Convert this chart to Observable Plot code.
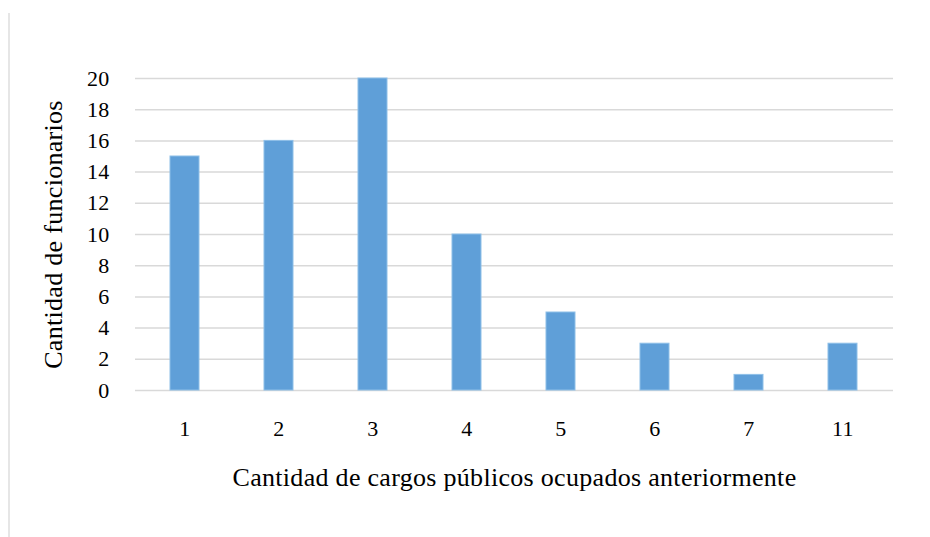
<!DOCTYPE html>
<html>
<head>
<meta charset="utf-8">
<script src="https://cdn.jsdelivr.net/npm/d3@7"></script>
<script src="https://cdn.jsdelivr.net/npm/@observablehq/plot@0.6"></script>
<style>
  html, body { margin: 0; padding: 0; background: #fff; }
  #wrap { position: relative; width: 930px; height: 537px; }
  #border { position: absolute; left: 8px; top: 13px; width: 2px; height: 524px; background: #e6e6e6; }
  #chart { position: absolute; left: 0; top: 0; }
</style>
</head>
<body>
<div id="wrap"><div id="border"></div><div id="chart"></div></div>
<script>
const categories = ["1", "2", "3", "4", "5", "6", "7", "11"];
const values = [15, 16, 20, 10, 5, 3, 1, 3];
const yTicks = [0, 2, 4, 6, 8, 10, 12, 14, 16, 18, 20];
const xTitle = "Cantidad de cargos públicos ocupados anteriormente";
const yTitle = "Cantidad de funcionarios";

const data = categories.map((c, i) => ({cat: c, value: values[i]}));
const serif = "Liberation Serif, DejaVu Serif, serif";

const chart = Plot.plot({
  width: 930,
  height: 537,
  marginLeft: 135,
  marginRight: 37,
  marginTop: 78,
  marginBottom: 147,
  style: {fontSize: "22px", fontFamily: serif, color: "#000", background: "transparent", letterSpacing: "0.3px"},
  x: {domain: categories, paddingInner: 0.69, paddingOuter: 0.345, align: 0.5},
  y: {domain: [0, 20]},
  marks: [
    Plot.gridY(yTicks, {stroke: "#d9d9d9", strokeOpacity: 1, strokeWidth: 1.5}),
    Plot.barY(data, {x: "cat", y: "value", fill: "#5f9fd8", stroke: "#8ebfe8", strokeWidth: 1}),
    Plot.axisY(yTicks, {tickSize: 0, tickPadding: 26, label: null, fontSize: 22, fontFamily: serif}),
    Plot.axisX({tickSize: 0, tickPadding: 30, label: null, fontSize: 22, fontFamily: serif}),
    Plot.text([xTitle], {frameAnchor: "bottom", dy: 87, lineAnchor: "middle", textAnchor: "middle", fontSize: 26, fontFamily: serif}),
    Plot.text([yTitle], {frameAnchor: "left", dx: -82, rotate: -90, lineAnchor: "middle", textAnchor: "middle", fontSize: 26, fontFamily: serif})
  ]
});
document.getElementById("chart").appendChild(chart);
</script>
</body>
</html>
